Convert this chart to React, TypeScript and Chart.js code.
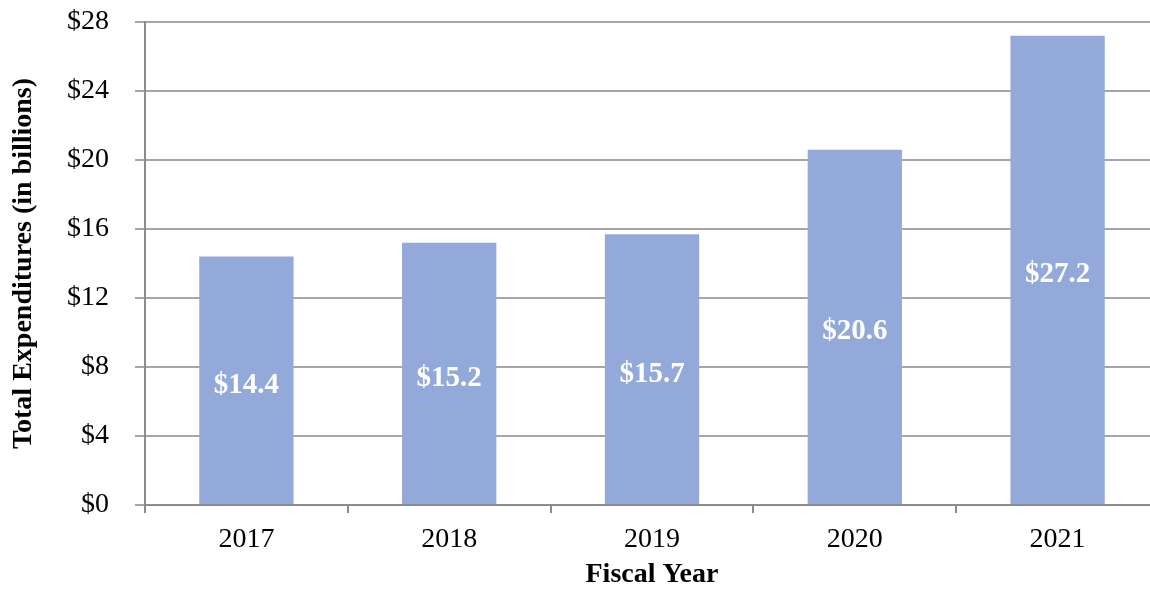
import React, { useEffect, useRef } from "react";
import { Chart, registerables } from "chart.js";

Chart.register(...registerables);

const categories = ["2017", "2018", "2019", "2020", "2021"];
const values = [14.4, 15.2, 15.7, 20.6, 27.2];
const yTicks = [0, 4, 8, 12, 16, 20, 24, 28];

const FONT = "'Liberation Serif', 'Times New Roman', serif";

const barLabels = {
  id: "barLabels",
  afterDatasetsDraw(chart: any) {
    const ctx = chart.ctx;
    const meta = chart.getDatasetMeta(0);
    ctx.save();
    ctx.fillStyle = "#ffffff";
    ctx.font = `bold 29px ${FONT}`;
    ctx.textAlign = "center";
    ctx.textBaseline = "middle";
    meta.data.forEach((bar: any, i: number) => {
      const { x, y, base } = bar.getProps(["x", "y", "base"], true);
      ctx.fillText("$" + values[i].toFixed(1), x, (y + base) / 2 + 5);
    });
    ctx.restore();
  },
};

export default function App() {
  const ref = useRef<HTMLCanvasElement>(null);
  useEffect(() => {
    document.body.style.margin = "0";
    document.body.style.overflow = "hidden";
    const chart = new Chart(ref.current!, {
      type: "bar",
      data: {
        labels: categories,
        datasets: [
          {
            data: values,
            backgroundColor: "#93A9D9",
            categoryPercentage: 1,
            barPercentage: 0.465,
          },
        ],
      },
      options: {
        animation: false,
        responsive: false,
        maintainAspectRatio: false,
        layout: { padding: { top: 22, right: 0, left: 0, bottom: 0 } },
        plugins: { legend: { display: false }, tooltip: { enabled: false } },
        scales: {
          x: {
            afterFit: (s: any) => {
              s.height = 87;
              s.paddingLeft = 0;
              s.paddingRight = 0;
            },
            grid: {
              drawOnChartArea: false,
              drawTicks: true,
              tickLength: 8,
              color: "#8c8c8c",
              lineWidth: 2,
              offset: true,
            },
            border: { color: "#8c8c8c", width: 2 },
            ticks: {
              color: "#000",
              font: { family: FONT, size: 28 },
              padding: 10,
            },
            title: {
              display: true,
              text: "Fiscal Year",
              color: "#000",
              font: { family: FONT, size: 28, weight: "bold" },
              padding: { top: 0, bottom: 0 },
            },
          },
          y: {
            min: 0,
            max: 28,
            afterFit: (s: any) => {
              s.width = 145;
              s.paddingTop = 0;
              s.paddingBottom = 0;
            },
            afterBuildTicks: (s: any) => {
              s.ticks = yTicks.map((v) => ({ value: v }));
            },
            grid: {
              color: "#a6a6a6",
              lineWidth: 2,
              drawTicks: true,
              tickLength: 10,
            },
            border: { color: "#8c8c8c", width: 2 },
            ticks: {
              color: "#000",
              font: { family: FONT, size: 28 },
              padding: 26,
              callback: (v: any) => "$" + v,
            },
            title: {
              display: true,
              text: "Total Expenditures (in billions)",
              color: "#000",
              font: { family: FONT, size: 28, weight: "bold" },
              padding: { top: 7, bottom: 0 },
            },
          },
        },
      },
      plugins: [barLabels],
    });
    return () => chart.destroy();
  }, []);
  return (
    <div style={{ position: "absolute", left: 0, top: 0, width: 1150, height: 592, overflow: "hidden" }}>
      <canvas ref={ref} width={1159} height={592} />
    </div>
  );
}
